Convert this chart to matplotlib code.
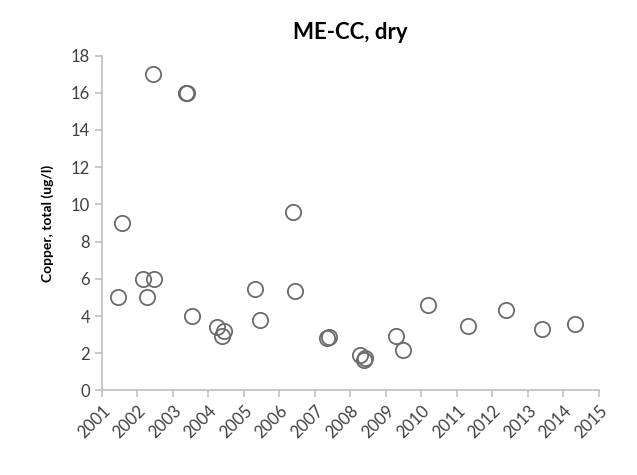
import matplotlib.pyplot as plt

# Sampling dates (decimal years) and total copper values (ug/l)
years = [2001.44, 2001.57, 2002.17, 2002.28, 2002.43, 2002.48,
         2003.37, 2003.41, 2003.54, 2004.24, 2004.39, 2004.43,
         2005.30, 2005.46, 2006.38, 2006.44, 2007.34, 2007.41,
         2008.28, 2008.38, 2008.42, 2009.29, 2009.47, 2010.20,
         2011.31, 2012.38, 2013.39, 2014.33]
copper = [5.0, 9.0, 6.0, 5.0, 17.0, 6.0,
          16.0, 16.0, 4.0, 3.4, 2.95, 3.2,
          5.45, 3.8, 9.6, 5.35, 2.8, 2.85,
          1.9, 1.65, 1.75, 2.95, 2.2, 4.6,
          3.45, 4.35, 3.3, 3.55]

year_ticks = list(range(2001, 2016))
y_ticks = list(range(0, 19, 2))

plt.rcParams['font.family'] = ['Lato', 'DejaVu Sans']

fig = plt.figure(figsize=(6.37, 4.75), dpi=100)
ax = fig.add_axes([0.16, 0.178, 0.78, 0.705])

ax.plot(years, copper, linestyle='none', marker='o', markersize=11,
        markerfacecolor='none', markeredgecolor='#6b6b6b', markeredgewidth=1.3)

ax.set_xlim(2001, 2015)
ax.set_ylim(0, 18)
ax.set_xticks(year_ticks)
ax.set_xticklabels([str(y) for y in year_ticks], rotation=45, ha='right',
                   rotation_mode='anchor')
ax.set_yticks(y_ticks)

for side in ['top', 'right']:
    ax.spines[side].set_visible(False)
for side in ['left', 'bottom']:
    ax.spines[side].set_color('#bfbfbf')
    ax.spines[side].set_linewidth(1.2)

ax.tick_params(axis='both', colors='#bfbfbf', labelcolor='#404040',
               labelsize=12, length=5, width=1.2, direction='out')

ax.set_title('ME-CC, dry', fontsize=16, fontweight='bold', pad=12)
ax.set_ylabel('Copper, total (ug/l)', fontsize=10, fontweight='bold', labelpad=12)

fig.savefig('out.png', dpi=100)
